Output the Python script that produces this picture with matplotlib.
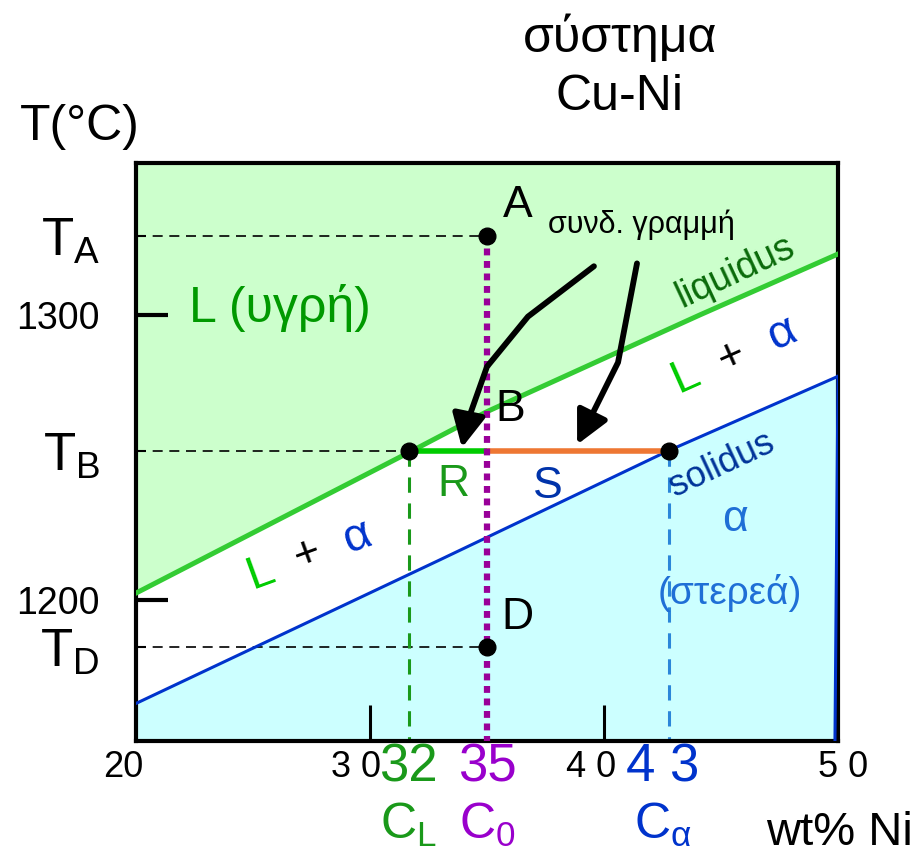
import numpy as np
import matplotlib.pyplot as plt
from matplotlib.path import Path
from matplotlib.patches import FancyArrowPatch

plt.rcParams['font.family'] = ['Liberation Sans', 'DejaVu Sans']
plt.rcParams['mathtext.fontset'] = 'custom'
plt.rcParams['mathtext.rm'] = 'Liberation Sans'
plt.rcParams['mathtext.it'] = 'Liberation Sans:italic'
plt.rcParams['mathtext.bf'] = 'Liberation Sans:bold'

# axis ranges (wt% Ni, deg C)
x_min, x_max = 20, 50
t_min, t_max = 1150.4, 1353.6

# phase boundaries
liq_x = [20, 31.7, 35.0, 40.67, 44.1, 50.0]
liq_t = [1202.4, 1252.0, 1266.2, 1287.4, 1300.2, 1321.6]
sol_x = [20, 32.99, 42.74, 50.0]
sol_t = [1163.6, 1214.1, 1252.4, 1278.6]
sol_edge_x = [50.0, 49.87]
sol_edge_t = [1278.6, 1150.4]

# compositions / temperatures of the example
c_l, c_0, c_a = 31.65, 35.0, 42.77
t_a, t_b, t_d = 1327.9, 1252.3, 1183.5
comp_labels = ['32', '35', '4 3']
comp_names = ['C$_\\mathrm{L}$', 'C$_\\mathrm{0}$', 'C$_\\mathrm{α}$']
comp_colors = ['#1a991a', '#9900cc', '#0033cc']

x_ticks = [30, 40]
x_label_pos = [19.45, 29.4, 39.45, 50.2]
x_label_txt = ['20', '3 0', '4 0', '5 0']

# annotation arrows ("συνδ. γραμμή")
arr1_x = [39.57, 36.75, 35.0, 34.15, 33.93]
arr1_t = [1317.3, 1299.6, 1282.0, 1262.3, 1253.5]
arr2_x = [41.41, 40.6, 38.85]
arr2_t = [1318.3, 1283.5, 1254.6]

fig = plt.figure(figsize=(9.2, 8.56), dpi=100)
ax = fig.add_axes([136 / 920, 1 - 741 / 856, 702 / 920, 578 / 856])
ax.set_xlim(x_min, x_max)
ax.set_ylim(t_min, t_max)

# regions
ax.fill(liq_x + [x_max, x_min], liq_t + [t_max, t_max], color='#ccffcc', lw=0, zorder=0)
ax.fill(sol_x + sol_edge_x[1:] + [x_min], sol_t + sol_edge_t[1:] + [t_min],
        color='#ccffff', lw=0, zorder=0)

# helper lines
ax.plot([x_min, c_0], [t_a, t_a], color='black', lw=1.2, ls=(0, (6, 4)), zorder=2)
ax.plot([x_min, c_l], [t_b, t_b], color='black', lw=1.2, ls=(0, (6, 4)), zorder=2)
ax.plot([x_min, c_0], [t_d, t_d], color='black', lw=1.2, ls=(0, (6, 4)), zorder=2)
ax.plot([c_l, c_l], [t_b, t_min], color='#1a991a', lw=2.2, ls=(0, (5, 3.5)), zorder=2)
ax.plot([c_a, c_a], [t_b, t_min], color='#2b86d9', lw=2.2, ls=(0, (5, 3.5)), zorder=2)

# liquidus / solidus
ax.plot(liq_x, liq_t, color='#33cc33', lw=3.6, zorder=3)
ax.plot(sol_x, sol_t, color='#0033cc', lw=2.2, zorder=3)
ax.plot(sol_edge_x, sol_edge_t, color='#0033cc', lw=2.2, zorder=3)

# tie line
ax.plot([c_l, c_0], [t_b, t_b], color='#00cc00', lw=4, solid_capstyle='butt', zorder=4)
ax.plot([c_0, c_a], [t_b, t_b], color='#ee7733', lw=4, solid_capstyle='butt', zorder=4)

# composition line
ax.plot([c_0, c_0], [t_a, t_min], color='#990099', lw=4.5, ls=(0, (1.1, 0.9)),
        dash_capstyle='butt', zorder=5)

# points
ax.plot([c_0, c_l, c_a, c_0], [t_a, t_b, t_b, t_d], 'o', color='black', ms=12, zorder=6)

# arrows
for ax_x, ax_t in [(arr1_x, arr1_t), (arr2_x, arr2_t)]:
    verts = list(zip(ax_x, ax_t))
    codes = [Path.MOVETO] + [Path.LINETO] * (len(verts) - 1)
    arr = FancyArrowPatch(path=Path(verts, codes),
                          arrowstyle='-|>,head_length=20,head_width=10',
                          color='black', lw=4.2, joinstyle='round', zorder=7)
    ax.add_patch(arr)

# axes styling
for s in ax.spines.values():
    s.set_linewidth(3)
    s.set_color('black')
ax.set_yticks([1200, 1300], labels=['1200', '1300'])
ax.set_yticks([t_d, t_b, t_a], labels=['T$_\\mathrm{D}$', 'T$_\\mathrm{B}$', 'T$_\\mathrm{A}$'],
              minor=True)
ax.tick_params(axis='y', which='major', direction='in', length=23, width=3, pad=26,
               labelsize=27)
ax.tick_params(axis='y', which='minor', direction='in', length=7, width=1.5, pad=26,
               labelsize=38)
ax.set_xticks(x_ticks, labels=['', ''])
ax.tick_params(axis='x', direction='in', length=26, width=2.2)

for xp, txt in zip(x_label_pos, x_label_txt):
    ax.text(xp, 1141, txt, fontsize=26, ha='center', va='center')
for xp, lab, nm, col in zip([c_l, c_0, c_a - 0.25], comp_labels, comp_names, comp_colors):
    ax.text(xp, 1141, lab, fontsize=38, color=col, ha='center', va='center')
    ax.text(xp, 1121, nm, fontsize=36, color=col, ha='center', va='center')

# titles
fig.text(620 / 920, 1 - 38 / 856, 'σύστημα', fontsize=36, ha='center', va='center')
fig.text(620 / 920, 1 - 97 / 856, 'Cu-Ni', fontsize=36, ha='center', va='center')
fig.text(80 / 920, 1 - 127 / 856, 'T(°C)', fontsize=36, ha='center', va='center')
fig.text(913 / 920, 1 - 833 / 856, 'wt% Ni', fontsize=34, ha='right', va='center')

# labels inside
ax.text(36.32, 1338.8, 'A', fontsize=32, ha='center', va='center')
ax.text(41.58, 1331.8, 'συνδ. γραμμή', fontsize=22, ha='center', va='center')
ax.text(45.6, 1315.3, 'liquidus', fontsize=27, color='#0a6a0a', rotation=25,
        ha='center', va='center')
ax.text(26.15, 1302.6, 'L (υγρή)', fontsize=36, color='#009900', ha='center', va='center')
ax.text(35.98, 1266.8, 'B', fontsize=32, ha='center', va='center')
ax.text(33.55, 1240.4, 'R', fontsize=32, color='#1a991a', ha='center', va='center')
ax.text(37.61, 1239.7, 'S', fontsize=32, color='#0033aa', ha='center', va='center')
ax.text(45.04, 1247.5, 'solidus', fontsize=26, color='#003399', rotation=25,
        ha='center', va='center')
ax.text(45.6, 1228.1, 'α', fontsize=32, color='#1f6fd6', ha='center', va='center')
ax.text(45.38, 1202.5, '(στερεά)', fontsize=28, color='#1f6fd6', ha='center', va='center')
ax.text(36.32, 1193.7, 'D', fontsize=32, ha='center', va='center')

# L + α (two places)
for (lx, lt), (px_, pt_), (axx, att), rot in [
        ((25.30, 1209.5), (27.31, 1215.8), (29.49, 1222.2), 20),
        ((43.46, 1278.4), (45.47, 1285.4), (47.65, 1293.8), 24)]:
    ax.text(lx, lt, 'L', fontsize=34, color='#00cc00', rotation=rot, ha='center', va='center')
    ax.text(px_, pt_, '+', fontsize=32, color='black', rotation=rot, ha='center', va='center')
    ax.text(axx, att, 'α', fontsize=34, color='#0033cc', rotation=rot, ha='center', va='center')

fig.savefig('out.png', dpi=100)
